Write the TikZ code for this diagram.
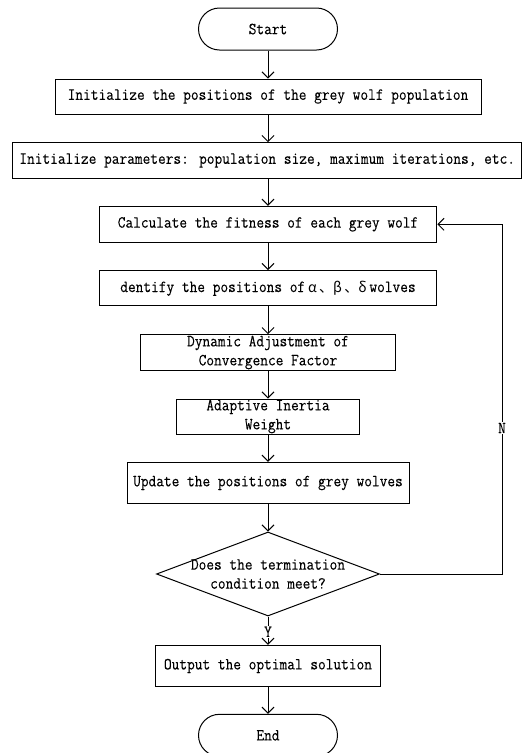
\documentclass[tikz,border=0pt]{standalone}
\usepackage{fontspec}
\setmainfont[FakeStretch=0.88,FakeBold=0.15]{Latin Modern Mono}
\newfontfamily\cjk{Noto Sans CJK SC}
\usetikzlibrary{arrows.meta,shapes.geometric}
\begin{document}
\begin{tikzpicture}[x=1pt,y=-1pt,
  font=\fontsize{17}{19}\selectfont,
  line width=1pt,
  box/.style={draw, rectangle, inner sep=0pt, align=center},
  term/.style={draw, rounded corners=21pt, minimum width=139pt, minimum height=42pt, inner sep=0pt},
  decision/.style={draw, diamond, aspect=2.65, minimum width=223pt, minimum height=84pt, inner sep=0pt},
  flow/.style={-{Straight Barb[length=6pt,width=12pt]}},
  lab/.style={fill=white, inner sep=1pt}]
\useasboundingbox (0,0) rectangle (531,753);

\node[term] (start) at (268,29) {Start};
\node[box, minimum width=426pt, minimum height=35pt] (b1) at (268,96.5) {Initialize the positions of the grey wolf population};
\node[box, minimum width=509pt, minimum height=35.6pt] (b2) at (267.2,160.5) {Initialize parameters: population size, maximum iterations, etc.};
\node[box, minimum width=337.7pt, minimum height=36pt] (b3) at (268,224.3) {Calculate the fitness of each grey wolf};
\node[box, minimum width=337.7pt, minimum height=35.3pt] (b4) at (268,288.3) {dentify the positions of\,{\cjk\fontsize{14}{19}\selectfont α\,、β\,、δ}\,wolves};
\node[box, minimum width=254.7pt, minimum height=35.6pt] (b5) at (268,352.5) {Dynamic Adjustment of\\Convergence Factor};
\node[box, minimum width=182.7pt, minimum height=35pt] (b6) at (268,416.5) {Adaptive Inertia\\Weight};
\node[box, minimum width=282pt, minimum height=41.4pt] (b7) at (268,483) {Update the positions of grey wolves};
\node[decision, label={[align=center]center:Does the termination\\condition meet?}] (dec) at (268,574) {};
\node[box, minimum width=224.7pt, minimum height=41.4pt] (b8) at (268,666) {Output the optimal solution};
\node[term] (end) at (268,735.3) {End};

\draw[flow] (start.south) -- (start.south |- b1.north);
\draw[flow] (b1.south) -- (b1.south |- b2.north);
\draw[flow] (b2.south -| b1.south) -- (b1.south |- b3.north);
\draw[flow] (b3.south) -- (b3.south |- b4.north);
\draw[flow] (b4.south) -- (b4.south |- b5.north);
\draw[flow] (b5.south) -- (b5.south |- b6.north);
\draw[flow] (b6.south) -- (b6.south |- b7.north);
\draw[flow] (b7.south) -- (b7.south |- dec.north);
\draw[flow] (dec.south) -- (dec.south |- b8.north);
\draw[flow] (b8.south) -- (b8.south |- end.north);

\coordinate (rr) at (502,0);
\draw[flow] (dec.east) -- (dec.east -| rr) -- (b3.east -| rr) -- (b3.east);

\node[lab] (nlab) at (502,428) {N};
\node[lab] (ylab) at (268,631.7) {Y};
\end{tikzpicture}
\end{document}
